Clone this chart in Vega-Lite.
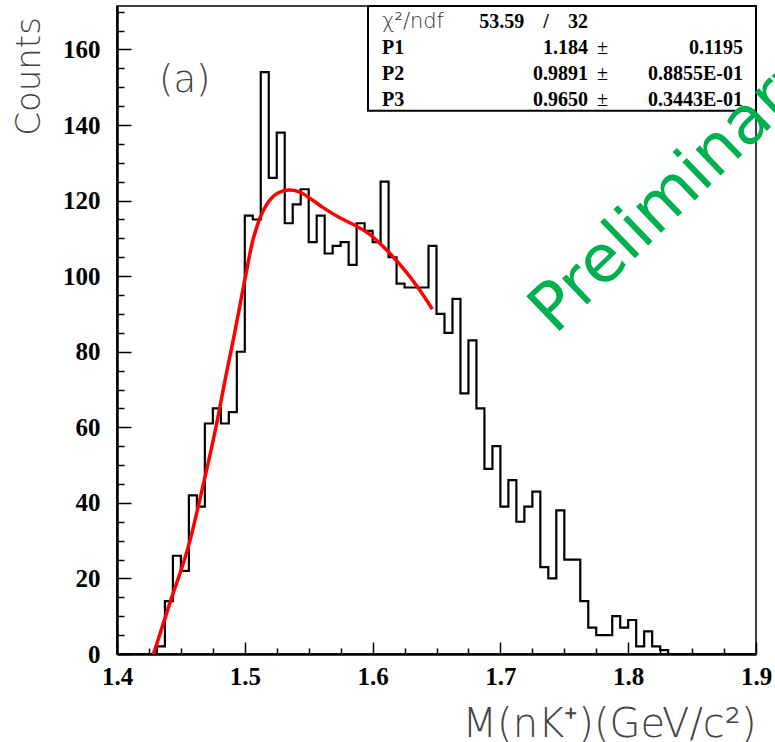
{
  "$schema": "https://vega.github.io/schema/vega-lite/v6.json",
  "width": 639,
  "height": 648,
  "autosize": {"type": "none"},
  "padding": {"left": 117, "top": 6, "right": 19, "bottom": 88},
  "background": "white",
  "config": {
    "view": {"stroke": "black", "strokeWidth": 1.5},
    "axis": {"grid": false, "domainColor": "black", "domainWidth": 2.5, "tickColor": "black", "labelColor": "black"}
  },
  "datasets": {
    "hist": [
      {"m": 1.4, "count": 0}, {"m": 1.40625, "count": 0}, {"m": 1.4125, "count": 0}, {"m": 1.41875, "count": 0},
      {"m": 1.425, "count": 0}, {"m": 1.43125, "count": 2}, {"m": 1.4375, "count": 14}, {"m": 1.44375, "count": 26},
      {"m": 1.45, "count": 22}, {"m": 1.45625, "count": 42}, {"m": 1.4625, "count": 39}, {"m": 1.46875, "count": 61},
      {"m": 1.475, "count": 65}, {"m": 1.48125, "count": 61}, {"m": 1.4875, "count": 64}, {"m": 1.49375, "count": 80},
      {"m": 1.5, "count": 116}, {"m": 1.50625, "count": 115}, {"m": 1.5125, "count": 154}, {"m": 1.51875, "count": 126},
      {"m": 1.525, "count": 138}, {"m": 1.53125, "count": 114}, {"m": 1.5375, "count": 119}, {"m": 1.54375, "count": 123},
      {"m": 1.55, "count": 109}, {"m": 1.55625, "count": 116}, {"m": 1.5625, "count": 106}, {"m": 1.56875, "count": 108},
      {"m": 1.575, "count": 109}, {"m": 1.58125, "count": 103}, {"m": 1.5875, "count": 114}, {"m": 1.59375, "count": 112},
      {"m": 1.6, "count": 109}, {"m": 1.60625, "count": 125}, {"m": 1.6125, "count": 105}, {"m": 1.61875, "count": 98},
      {"m": 1.625, "count": 97}, {"m": 1.63125, "count": 97}, {"m": 1.6375, "count": 97}, {"m": 1.64375, "count": 108},
      {"m": 1.65, "count": 90}, {"m": 1.65625, "count": 85}, {"m": 1.6625, "count": 94}, {"m": 1.66875, "count": 69},
      {"m": 1.675, "count": 83}, {"m": 1.68125, "count": 65}, {"m": 1.6875, "count": 49}, {"m": 1.69375, "count": 55},
      {"m": 1.7, "count": 39}, {"m": 1.70625, "count": 46}, {"m": 1.7125, "count": 35}, {"m": 1.71875, "count": 39},
      {"m": 1.725, "count": 43}, {"m": 1.73125, "count": 23}, {"m": 1.7375, "count": 20}, {"m": 1.74375, "count": 38},
      {"m": 1.75, "count": 25}, {"m": 1.75625, "count": 25}, {"m": 1.7625, "count": 14}, {"m": 1.76875, "count": 7},
      {"m": 1.775, "count": 5}, {"m": 1.78125, "count": 5}, {"m": 1.7875, "count": 10}, {"m": 1.79375, "count": 7},
      {"m": 1.8, "count": 9}, {"m": 1.80625, "count": 2}, {"m": 1.8125, "count": 6}, {"m": 1.81875, "count": 2},
      {"m": 1.825, "count": 1}, {"m": 1.83125, "count": 0}, {"m": 1.8375, "count": 0}, {"m": 1.84375, "count": 0},
      {"m": 1.85, "count": 0}, {"m": 1.85625, "count": 0}, {"m": 1.8625, "count": 0}, {"m": 1.86875, "count": 0},
      {"m": 1.875, "count": 0}, {"m": 1.88125, "count": 0}, {"m": 1.8875, "count": 0}, {"m": 1.89375, "count": 0},
      {"m": 1.9, "count": 0}
    ],
    "fit": [
      {"m": 1.4286, "fit": 0}, {"m": 1.4409, "fit": 13}, {"m": 1.4571, "fit": 30}, {"m": 1.4649, "fit": 41},
      {"m": 1.478, "fit": 61}, {"m": 1.4845, "fit": 72.4}, {"m": 1.4915, "fit": 84}, {"m": 1.5, "fit": 99},
      {"m": 1.5063, "fit": 109.5}, {"m": 1.512, "fit": 115.5}, {"m": 1.5168, "fit": 118.8}, {"m": 1.522, "fit": 121},
      {"m": 1.5271, "fit": 122.2}, {"m": 1.5349, "fit": 122.8}, {"m": 1.542, "fit": 122.4}, {"m": 1.548, "fit": 121.3},
      {"m": 1.561, "fit": 118.2}, {"m": 1.574, "fit": 115.5}, {"m": 1.587, "fit": 113.3}, {"m": 1.5973, "fit": 111.2},
      {"m": 1.6104, "fit": 107.1}, {"m": 1.6233, "fit": 102.3}, {"m": 1.6363, "fit": 96.6}, {"m": 1.6467, "fit": 91.3}
    ],
    "stats": [
      {"name": "χ²/ndf", "value": "53.59", "error": "32"},
      {"name": "P1", "value": "1.184", "error": "0.1195"},
      {"name": "P2", "value": "0.9891", "error": "0.8855E-01"},
      {"name": "P3", "value": "0.9650", "error": "0.3443E-01"}
    ]
  },
  "resolve": {"scale": {"x": "independent", "y": "independent"}},
  "layer": [
    {
      "resolve": {"axis": {"x": "independent", "y": "independent"}},
      "layer": [
        {
          "data": {"name": "hist"},
          "mark": {"type": "line", "interpolate": "step-after", "color": "black", "strokeWidth": 2.2, "strokeJoin": "miter"},
          "encoding": {
            "x": {
              "field": "m", "type": "quantitative",
              "scale": {"domain": [1.4, 1.9], "nice": false, "zero": false},
              "axis": {
                "orient": "bottom",
                "values": [1.4, 1.5, 1.6, 1.7, 1.8, 1.9],
                "tickSize": -12,
                "tickWidth": 1.5,
                "format": ".1f",
                "labelFont": "Liberation Serif", "labelFontWeight": "bold", "labelFontSize": 25,
                "labelPadding": 22, "labelFlush": false, "labelOverlap": false,
                "title": "M(nK⁺)(GeV/c²)",
                "titleFont": "DejaVu Sans", "titleFontWeight": 200, "titleFontSize": 40, "titleColor": "#444",
                "titleX": 639, "titleY": 82, "titleAlign": "right", "titleBaseline": "alphabetic"
              }
            },
            "y": {
              "field": "count", "type": "quantitative",
              "scale": {"domain": [0, 171.5], "nice": false, "zero": false},
              "axis": {
                "orient": "left",
                "values": [0, 20, 40, 60, 80, 100, 120, 140, 160],
                "tickSize": -14,
                "tickWidth": 1.5,
                "labelFont": "Liberation Serif", "labelFontWeight": "bold", "labelFontSize": 25,
                "labelPadding": 31, "labelOverlap": false,
                "title": "Counts",
                "titleFont": "DejaVu Sans", "titleFontWeight": 200, "titleFontSize": 34, "titleColor": "#444",
                "titleX": -78, "titleY": 70, "titleAlign": "center", "titleBaseline": "alphabetic", "titleAngle": -90
              }
            }
          }
        },
        {
          "data": {"name": "fit"},
          "mark": {"type": "line", "interpolate": "monotone", "color": "#ff0000", "strokeWidth": 3.5},
          "encoding": {
            "x": {
              "field": "m", "type": "quantitative",
              "axis": {
                "orient": "bottom",
                "values": [1.425, 1.45, 1.475, 1.525, 1.55, 1.575, 1.625, 1.65, 1.675, 1.725, 1.75, 1.775, 1.825, 1.85, 1.875],
                "tickSize": -6, "tickWidth": 1.5, "labels": false, "domain": false, "title": null
              }
            },
            "y": {
              "field": "fit", "type": "quantitative",
              "axis": {
                "orient": "left",
                "values": [5, 10, 15, 25, 30, 35, 45, 50, 55, 65, 70, 75, 85, 90, 95, 105, 110, 115, 125, 130, 135, 145, 150, 155, 165, 170],
                "tickSize": -7, "tickWidth": 1.5, "labels": false, "domain": false, "title": null
              }
            }
          }
        },
        {
          "data": {"values": [{"panel": "fit results"}]},
          "mark": {"type": "rect", "fill": "white", "stroke": "black", "strokeWidth": 2},
          "encoding": {
            "x": {"datum": 1.5964, "type": "quantitative", "axis": null},
            "x2": {"datum": 1.9},
            "y": {"datum": 143.8, "type": "quantitative", "axis": null},
            "y2": {"datum": 171.5}
          }
        },
        {
          "data": {"values": [{"label": "(a)"}]},
          "mark": {"type": "text", "font": "DejaVu Sans", "fontWeight": 200, "fontSize": 37, "color": "#444", "align": "center", "baseline": "middle"},
          "encoding": {
            "x": {"datum": 1.453, "type": "quantitative", "axis": null},
            "y": {"datum": 151.7, "type": "quantitative", "axis": null},
            "text": {"field": "label"}
          }
        },
        {
          "data": {"values": [{"label": "Preliminary"}]},
          "mark": {"type": "text", "font": "DejaVu Sans", "fontSize": 66, "color": "#00B04F", "align": "left", "baseline": "alphabetic", "angle": -44},
          "encoding": {
            "x": {"datum": 1.7427, "type": "quantitative", "axis": null},
            "y": {"datum": 84.3, "type": "quantitative", "axis": null},
            "text": {"field": "label"}
          }
        }
      ]
    },
    {
      "data": {"name": "stats"},
      "encoding": {
        "y": {"field": "name", "type": "nominal", "scale": {"type": "point", "padding": 0, "domain": ["χ²/ndf", "P1", "P2", "P3"], "range": [21.5, 100]}, "axis": null}
      },
      "layer": [
        {
          "transform": [{"filter": "datum.name === 'χ²/ndf'"}],
          "mark": {"type": "text", "font": "DejaVu Sans", "fontWeight": 200, "fontSize": 21, "color": "#333", "align": "left", "baseline": "alphabetic"},
          "encoding": {
            "x": {"datum": 1.6074, "type": "quantitative", "scale": {"domain": [1.4, 1.9], "nice": false, "zero": false}, "axis": null},
            "text": {"field": "name"}
          }
        },
        {
          "transform": [{"filter": "datum.name === 'χ²/ndf'"}],
          "mark": {"type": "text", "font": "Liberation Serif", "fontWeight": "bold", "fontSize": 20, "color": "black", "align": "right", "baseline": "alphabetic"},
          "encoding": {
            "x": {"datum": 1.7187, "type": "quantitative", "axis": null},
            "text": {"field": "value"}
          }
        },
        {
          "transform": [{"filter": "datum.name === 'χ²/ndf'"}],
          "mark": {"type": "text", "text": "/", "font": "Liberation Serif", "fontWeight": "bold", "fontSize": 20, "color": "black", "align": "center", "baseline": "alphabetic"},
          "encoding": {
            "x": {"datum": 1.7357, "type": "quantitative", "axis": null}
          }
        },
        {
          "transform": [{"filter": "datum.name === 'χ²/ndf'"}],
          "mark": {"type": "text", "font": "Liberation Serif", "fontWeight": "bold", "fontSize": 20, "color": "black", "align": "right", "baseline": "alphabetic"},
          "encoding": {
            "x": {"datum": 1.7685, "type": "quantitative", "axis": null},
            "text": {"field": "error"}
          }
        },
        {
          "transform": [{"filter": "datum.name !== 'χ²/ndf'"}],
          "mark": {"type": "text", "font": "Liberation Serif", "fontWeight": "bold", "fontSize": 20, "color": "black", "align": "left", "baseline": "alphabetic"},
          "encoding": {
            "x": {"datum": 1.6074, "type": "quantitative", "axis": null},
            "text": {"field": "name"}
          }
        },
        {
          "transform": [{"filter": "datum.name !== 'χ²/ndf'"}],
          "mark": {"type": "text", "font": "Liberation Serif", "fontWeight": "bold", "fontSize": 20, "color": "black", "align": "right", "baseline": "alphabetic"},
          "encoding": {
            "x": {"datum": 1.7685, "type": "quantitative", "axis": null},
            "text": {"field": "value"}
          }
        },
        {
          "transform": [{"filter": "datum.name !== 'χ²/ndf'"}],
          "mark": {"type": "text", "text": "±", "font": "Liberation Serif", "fontSize": 20, "color": "black", "align": "right", "baseline": "alphabetic"},
          "encoding": {
            "x": {"datum": 1.7842, "type": "quantitative", "axis": null}
          }
        },
        {
          "transform": [{"filter": "datum.name !== 'χ²/ndf'"}],
          "mark": {"type": "text", "font": "Liberation Serif", "fontWeight": "bold", "fontSize": 20, "color": "black", "align": "right", "baseline": "alphabetic"},
          "encoding": {
            "x": {"datum": 1.8898, "type": "quantitative", "axis": null},
            "text": {"field": "error"}
          }
        }
      ]
    }
  ]
}
